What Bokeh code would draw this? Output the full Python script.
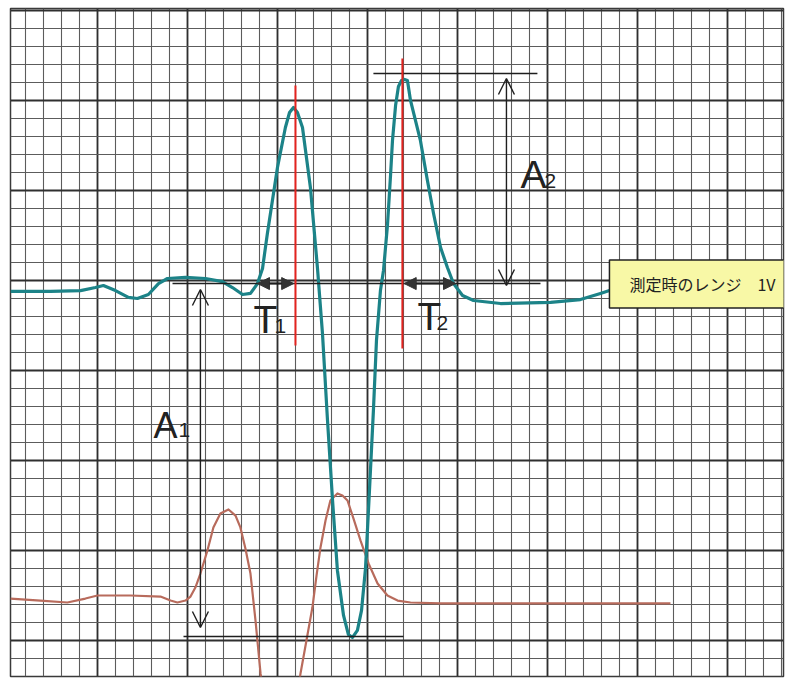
from bokeh.plotting import figure
from bokeh.models import FixedTicker, Arrow, OpenHead, NormalHead, Label
from bokeh.core.properties import value
from bokeh.embed import file_html
from bokeh.resources import INLINE

# ---- data (time in chart divisions, amplitude in chart divisions) ----
teal_t = [0.17, 2.39, 4.06, 4.89, 5.33, 6.0, 6.72, 7.22, 7.83, 8.39, 8.89, 9.89, 11.0, 11.94,
          12.5, 13.06, 13.5, 13.89, 14.17, 14.44, 14.72, 15.0, 15.44, 15.67, 15.89, 16.11,
          16.39, 16.83, 17.22, 17.5, 17.78, 18.06, 18.33, 18.67, 18.94, 19.17, 19.44, 19.67,
          19.89, 20.11, 20.33, 20.5, 20.72, 20.89, 21.11, 21.28, 21.39, 21.56, 21.72, 21.89,
          22.06, 22.22, 22.39, 22.94, 23.33, 23.67, 24.06, 24.44, 24.78, 25.28, 25.89, 27.39,
          30.17, 31.83, 32.94, 33.61]
teal_v = [19.39, 19.39, 19.44, 19.61, 19.72, 19.44, 19.06, 19.0, 19.22, 19.83, 20.11, 20.17,
          20.11, 19.94, 19.61, 19.22, 19.28, 19.83, 20.67, 22.61, 24.44, 26.28, 28.5, 29.33,
          29.61, 29.33, 28.5, 25.17, 20.72, 17.06, 12.22, 7.78, 3.89, 1.39, 0.33, 0.17, 0.56,
          1.67, 4.0, 8.33, 12.78, 16.67, 19.44, 20.56, 23.06, 25.83, 27.78, 29.72, 30.78,
          31.11, 31.17, 31.11, 30.0, 27.78, 25.56, 23.72, 21.83, 20.72, 19.83, 19.17, 18.89,
          18.72, 18.78, 18.94, 19.28, 19.5]

red_t = [0.17, 1.83, 3.33, 4.33, 5.0, 6.83, 8.5, 9.06, 9.44, 9.89, 10.17, 10.44, 10.72, 11.11,
         11.44, 11.83, 12.28, 12.67, 12.94, 13.22, 13.5, 13.78, 14.06, 14.28, 14.72, 15.17,
         15.61, 16.06, 16.28, 16.61, 16.94, 17.17, 17.39, 17.67, 17.94, 18.33, 18.61, 18.89,
         19.22, 19.61, 20.06, 20.56, 21.11, 21.67, 22.39, 24.06, 27.39, 32.94, 36.83]
red_v = [2.33, 2.22, 2.11, 2.33, 2.5, 2.5, 2.44, 2.22, 2.11, 2.22, 2.44, 2.94, 3.72, 5.0,
         6.28, 7.06, 7.28, 6.94, 6.28, 5.11, 3.72, 1.11, -1.83, -3.33, -5.56, -6.11,
         -5.56, -3.33, -1.83, 0.0, 1.83, 3.61, 5.17, 6.67, 7.78, 8.17, 8.06, 7.78,
         6.78, 5.56, 4.28, 3.17, 2.5, 2.22, 2.11, 2.06, 2.06, 2.06, 2.06]

# chart paper divisions
x_major = [0, 5, 10, 15, 20, 25, 30, 35, 40]
x_minor = list(range(0, 44))
y_major = [0, 5, 10, 15, 20, 25, 30, 35]
y_minor = list(range(-2, 36))

# measurement marks
baseline_level = 19.83
a2_level = 31.5
a1_level = 0.22
peak1_t = 16.0
peak2_t = 21.94
t1_start, t2_end = 13.89, 24.89
range_label = "測定時のレンジ　1V"

p = figure(width=800, height=679, x_range=(0.17, 43.11), y_range=(-2.0, 35.11),
           output_backend="svg", toolbar_location=None,
           min_border_left=10, min_border_right=17, min_border_top=8, min_border_bottom=3)
p.xaxis.visible = False
p.yaxis.visible = False
p.background_fill_color = "white"
p.border_fill_color = "white"
p.outline_line_color = "#3a3a3a"
p.outline_line_width = 1.5

p.xgrid.ticker = FixedTicker(ticks=x_major, minor_ticks=x_minor)
p.ygrid.ticker = FixedTicker(ticks=y_major, minor_ticks=y_minor)
for g in (p.xgrid, p.ygrid):
    g.grid_line_color = "#2f2f2f"
    g.grid_line_width = 1.8
    g.grid_line_alpha = 1.0
    g.minor_grid_line_color = "#5c5c5c"
    g.minor_grid_line_width = 1.1

# traces
p.line(red_t, red_v, line_color="#b86b5c", line_width=2.2, line_join="round")
p.line(teal_t, teal_v, line_color="#1c8388", line_width=3.2, line_join="round")

ink = "#1e1e1e"
# horizontal reference lines
p.line([9.17, 29.61], [baseline_level, baseline_level], line_color=ink, line_width=1.6)
p.line([20.33, 29.44], [a2_level, a2_level], line_color=ink, line_width=1.6)
p.line([9.78, 22.0], [a1_level, a1_level], line_color=ink, line_width=1.6)

# red peak markers
p.line([peak1_t, peak1_t], [16.39, 30.83], line_color="#e3231f", line_width=2)
p.line([peak2_t, peak2_t], [16.22, 32.33], line_color="#e3231f", line_width=2)

# amplitude arrows
p.add_layout(Arrow(x_start=27.72, y_start=31.22, x_end=27.72, y_end=19.72,
                   start=OpenHead(size=16, line_color=ink, line_width=1.4),
                   end=OpenHead(size=16, line_color=ink, line_width=1.4),
                   line_color=ink, line_width=1.4))
p.add_layout(Arrow(x_start=10.72, y_start=19.5, x_end=10.72, y_end=0.72,
                   start=OpenHead(size=16, line_color=ink, line_width=1.4),
                   end=OpenHead(size=16, line_color=ink, line_width=1.4),
                   line_color=ink, line_width=1.4))
# time arrows
p.add_layout(Arrow(x_start=t1_start, y_start=baseline_level, x_end=peak1_t - 0.1, y_end=baseline_level,
                   start=NormalHead(size=12, fill_color="#333", line_color="#333"),
                   end=NormalHead(size=12, fill_color="#333", line_color="#333"),
                   line_color=ink, line_width=2))
p.add_layout(Arrow(x_start=peak2_t + 0.1, y_start=baseline_level, x_end=t2_end, y_end=baseline_level,
                   start=NormalHead(size=12, fill_color="#333", line_color="#333"),
                   end=NormalHead(size=12, fill_color="#333", line_color="#333"),
                   line_color=ink, line_width=2))

# symbol texts
font = value("Liberation Sans")
p.text(x=[13.67, 22.78, 28.5], y=[17.83, 18.0, 25.89], text=["T", "T", "A"],
       text_font=font, text_font_size="39px", text_color="#222",
       text_align="left", text_baseline="middle")
p.text(x=[8.11], y=[11.97], text=["A"],
       text_font=font, text_font_size="36px", text_color="#222",
       text_align="left", text_baseline="middle")
p.text(x=[14.83, 23.83, 29.83, 9.5], y=[17.47, 17.64, 25.53, 11.67], text=["1", "2", "2", "1"],
       text_font=font, text_font_size="21px", text_color="#222",
       text_align="left", text_baseline="middle")

# range label box
p.add_layout(Label(x=38.61, y=19.81, text=range_label,
                   text_font="Noto Sans CJK JP", text_font_size="16px", text_color="#222",
                   text_align="center", text_baseline="middle",
                   background_fill_color="#f8f8a6", background_fill_alpha=1.0,
                   border_line_color="#222", border_line_width=1.5,
                   padding=dict(left=20, right=20, top=12, bottom=12)))

open("out.html", "w").write(file_html(p, INLINE))
